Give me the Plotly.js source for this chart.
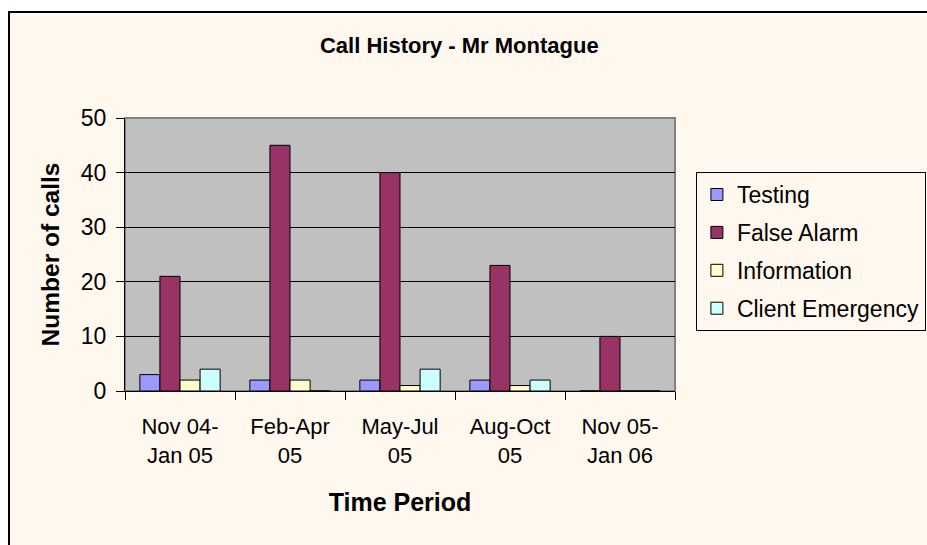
<!DOCTYPE html>
<html>
<head>
<meta charset="utf-8">
<script src="https://cdn.plot.ly/plotly-3.0.1.min.js"></script>
<style>
html,body{margin:0;padding:0;background:#ffffff;width:927px;height:545px;overflow:hidden;}
#frame{position:absolute;left:8px;top:11px;width:917px;height:532px;border-left:2px solid #000;border-top:2px solid #000;background:#FFF8EE;}
#chart{width:917px;height:532px;}
</style>
</head>
<body>
<div id="frame"><div id="chart"></div></div>
<script>
const categories = ["Nov 04-<br>Jan 05", "Feb-Apr<br>05", "May-Jul<br>05", "Aug-Oct<br>05", "Nov 05-<br>Jan 06"];
const testing = [3, 2, 2, 2, 0];
const falseAlarm = [21, 45, 40, 23, 10];
const information = [2, 2, 1, 1, 0];
const clientEmergency = [4, 0, 4, 2, 0];
const seriesNames = ["Testing", "False Alarm", "Information", "Client Emergency"];
const seriesColors = ["#9999FF", "#993366", "#FFFFCC", "#CCFFFF"];
const seriesValues = [testing, falseAlarm, information, clientEmergency];

const FONT = "Arial, 'Liberation Sans', sans-serif";

const traces = seriesValues.map((vals, i) => ({
  type: "bar",
  name: seriesNames[i],
  x: categories,
  y: vals,
  legendgroup: "g" + i,
  marker: {color: seriesColors[i], line: {color: "#000000", width: 1}},
  hoverinfo: "skip"
}));

const layout = {
  width: 917,
  height: 532,
  paper_bgcolor: "#FFF8EE",
  plot_bgcolor: "#C0C0C0",
  margin: {l: 115, r: 252, t: 105, b: 154, autoexpand: false},
  font: {family: FONT, size: 23, color: "#000"},
  title: {
    text: "<b>Call History - Mr Montague</b>",
    font: {family: FONT, size: 22, color: "#000"},
    x: 0.49, xref: "container",
    y: 0.94, yref: "container", yanchor: "middle"
  },
  barmode: "group",
  bargap: 0.27,
  bargroupgap: 0,
  xaxis: {
    type: "category",
    automargin: false,
    showgrid: false,
    showline: true, linecolor: "#000", linewidth: 1,
    ticks: "outside", tickson: "boundaries", ticklen: 8, tickcolor: "#000",
    ticklabelstandoff: 16,
    tickfont: {family: FONT, size: 22, color: "#000"},
    title: {text: "<b>Time Period</b>", font: {family: FONT, size: 25, color: "#000"}, standoff: 26},
    zeroline: false
  },
  yaxis: {
    range: [0, 50],
    dtick: 10,
    automargin: false,
    showgrid: true, gridcolor: "#000", gridwidth: 1,
    showline: true, linecolor: "#000", linewidth: 1,
    ticks: "outside", ticklen: 8, tickcolor: "#000",
    ticklabelstandoff: 5,
    tickfont: {family: FONT, size: 23, color: "#000"},
    title: {text: "<b>Number of calls</b>", font: {family: FONT, size: 24.5, color: "#000"}, standoff: 14},
    zeroline: false
  },
  shapes: [{
    type: "rect", xref: "paper", yref: "paper", x0: 0, x1: 1, y0: 0, y1: 1,
    line: {color: "#808080", width: 2}, layer: "below"
  }],
  legend: {
    x: 1.038, xanchor: "left",
    y: 0.802, yanchor: "top",
    bgcolor: "#FFF8EE", bordercolor: "#000", borderwidth: 1,
    font: {family: FONT, size: 23, color: "#000"},
    traceorder: "grouped",
    tracegroupgap: 5,
    itemwidth: 30,
    itemclick: false
  },
  showlegend: true
};

Plotly.newPlot("chart", traces, layout, {staticPlot: true, displayModeBar: false});
</script>
</body>
</html>
